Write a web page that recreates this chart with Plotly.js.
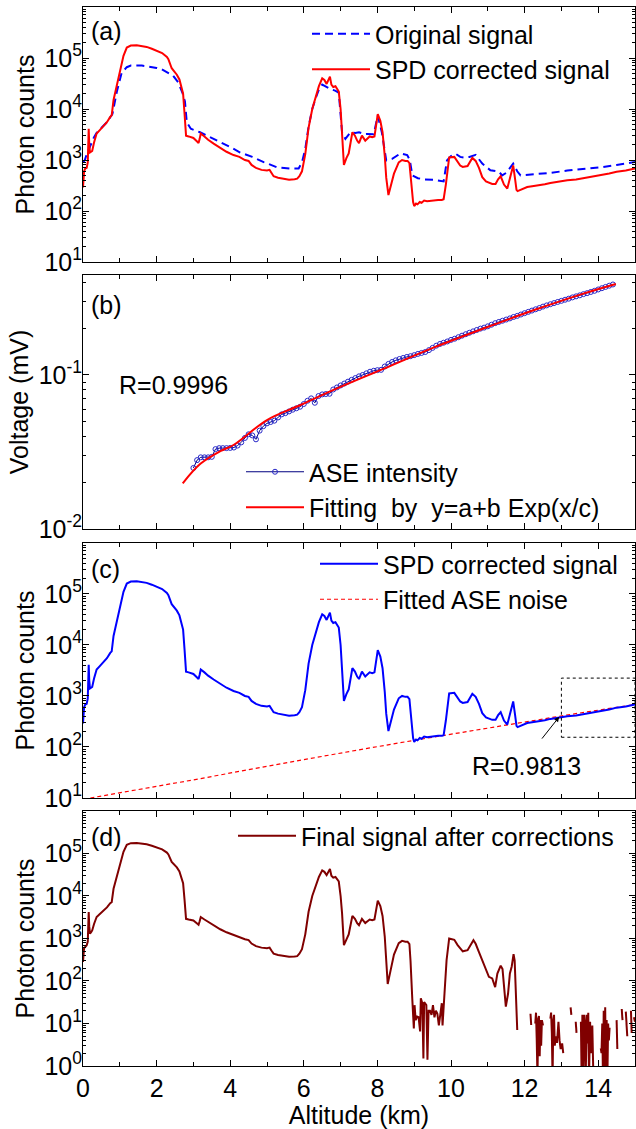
<!DOCTYPE html>
<html>
<head>
<meta charset="utf-8">
<script src="https://cdn.plot.ly/plotly-3.0.1.min.js"></script>
<style>html,body{margin:0;padding:0;background:#fff;}#chart{width:636px;height:1129px;}</style>
</head>
<body>
<div id="chart"></div>
<script>
// ---------------- DATA ----------------
// Panel (a)/(c): SPD corrected signal
const spdAlt = [0.00,0.03,0.06,0.10,0.13,0.155,0.17,0.19,0.22,0.25,0.30,0.37,0.45,0.55,0.65,0.74,0.78,0.83,0.92,1.02,1.10,1.19,1.30,1.46,1.60,1.73,1.87,2.00,2.15,2.28,2.32,2.41,2.48,2.55,2.62,2.68,2.72,2.76,2.80,2.87,3.00,3.10,3.14,3.17,3.20,3.30,3.40,3.55,3.73,3.90,4.09,4.25,4.40,4.50,4.58,4.70,4.85,5.00,5.07,5.12,5.18,5.30,5.45,5.60,5.75,5.82,5.88,5.95,6.04,6.13,6.23,6.32,6.41,6.50,6.56,6.62,6.67,6.71,6.75,6.80,6.86,6.95,7.00,7.04,7.09,7.16,7.22,7.32,7.39,7.45,7.50,7.58,7.67,7.79,7.86,7.92,8.01,8.08,8.14,8.20,8.24,8.30,8.36,8.45,8.58,8.67,8.76,8.82,8.87,8.93,8.97,9.00,9.05,9.09,9.15,9.20,9.27,9.35,9.45,9.54,9.65,9.75,9.80,9.86,9.92,9.95,10.09,10.18,10.25,10.32,10.45,10.58,10.67,10.76,10.85,10.95,11.03,11.12,11.21,11.28,11.35,11.44,11.53,11.62,11.69,11.74,11.78,11.81,11.90,12.07,12.25,12.40,12.55,12.70,12.90,13.16,13.40,13.60,13.85,14.08,14.30,14.50,14.75,15.00];
const spdCounts = [290,600,680,700,900,4100,2000,1400,1450,1500,2200,3300,3800,4500,5500,7000,7500,15000,30000,65000,110000,160000,175000,177000,172000,165000,152000,138000,125000,105000,95000,63000,55000,47000,38000,27000,20000,8000,3000,2900,2700,2300,2150,2600,3300,2900,2500,2100,1700,1450,1250,1150,1000,960,800,700,640,620,640,560,480,450,430,410,420,430,480,600,1300,4300,10000,17000,28000,40000,37000,31000,36000,43000,30000,27000,28000,22000,10000,4000,800,1100,1350,3500,3000,2400,2150,3000,2400,2900,2800,2900,7900,5900,3500,1200,450,205,300,540,900,1000,960,960,870,300,150,125,140,135,150,145,160,155,160,162,165,165,170,330,900,1120,1150,900,780,730,760,1100,960,700,460,380,360,340,340,420,480,330,275,520,780,430,260,245,260,295,310,320,335,355,375,400,415,440,470,520,545,590,620,680];

// Panel (a): original signal
const origAlt = [0.00,0.05,0.10,0.15,0.20,0.30,0.37,0.50,0.65,0.80,0.92,1.05,1.19,1.30,1.46,1.60,1.73,1.87,2.00,2.14,2.27,2.45,2.59,2.70,2.77,2.82,2.93,3.18,3.45,3.73,4.00,4.27,4.60,4.91,5.27,5.64,5.86,5.95,6.04,6.13,6.23,6.32,6.41,6.50,6.62,6.73,6.85,6.95,7.04,7.13,7.27,7.40,7.50,7.65,7.72,7.90,8.01,8.12,8.24,8.40,8.63,8.81,8.88,8.95,9.10,9.27,9.54,9.80,9.89,10.00,10.13,10.25,10.35,10.50,10.67,10.85,11.07,11.30,11.39,11.50,11.69,11.80,11.89,12.25,12.70,13.16,13.60,14.08,14.50,15.00];
const origCounts = [900,1000,1300,1600,2000,2800,3400,4200,5500,8000,22000,51000,66000,71000,72000,71000,69000,67000,64000,60000,54000,45000,33000,21000,14000,5500,4100,3500,2800,2250,1800,1400,1150,910,720,680,680,900,1650,4500,10000,16000,24000,30000,27000,24500,23000,21000,3500,2600,3500,3400,3500,3200,3250,3200,7400,3500,980,1050,1350,1250,1000,500,440,415,410,380,980,1200,1320,1150,1120,1150,1260,850,630,590,500,560,850,600,500,525,560,620,660,720,800,910];

// Panel (b): ASE intensity and fit
const aseAlt = [3.0,3.1,3.2,3.3,3.4,3.5,3.6,3.7,3.8,3.9,4.0,4.1,4.2,4.3,4.4,4.5,4.6,4.7,4.8,4.9,5.0,5.1,5.2,5.3,5.4,5.5,5.6,5.7,5.8,5.9,6.0,6.1,6.2,6.3,6.4,6.5,6.6,6.7,6.8,6.9,7.0,7.1,7.2,7.3,7.4,7.5,7.6,7.7,7.8,7.9,8.0,8.1,8.2,8.3,8.4,8.5,8.6,8.7,8.8,8.9,9.0,9.1,9.2,9.3,9.4,9.5,9.6,9.7,9.8,9.9,10.0,10.1,10.2,10.3,10.4,10.5,10.6,10.7,10.8,10.9,11.0,11.1,11.2,11.3,11.4,11.5,11.6,11.7,11.8,11.9,12.0,12.1,12.2,12.3,12.4,12.5,12.6,12.7,12.8,12.9,13.0,13.1,13.2,13.3,13.4,13.5,13.6,13.7,13.8,13.9,14.0,14.1,14.2,14.3,14.4];
const aseVolt = [0.0249,0.0280,0.0292,0.0292,0.0292,0.0294,0.0330,0.0335,0.0335,0.0335,0.0336,0.0338,0.0348,0.0365,0.0390,0.0412,0.0405,0.0382,0.0435,0.0465,0.0485,0.0495,0.0505,0.0530,0.0555,0.0565,0.0580,0.0595,0.0608,0.0622,0.0648,0.0680,0.0705,0.0660,0.0730,0.0748,0.0752,0.0755,0.0805,0.0830,0.0855,0.0880,0.0905,0.0930,0.0955,0.0980,0.1000,0.1025,0.1050,0.1065,0.1075,0.1080,0.1135,0.1180,0.1215,0.1245,0.1270,0.1290,0.1310,0.1325,0.1345,0.1370,0.1390,0.1410,0.1450,0.1500,0.1550,0.1590,0.1620,0.1650,0.1690,0.1720,0.1760,0.1800,0.1840,0.1880,0.1920,0.1960,0.2000,0.2030,0.2070,0.2120,0.2170,0.2210,0.2250,0.2290,0.2330,0.2380,0.2420,0.2470,0.2520,0.2570,0.2620,0.2670,0.2720,0.2780,0.2830,0.2880,0.2930,0.2980,0.3030,0.3080,0.3130,0.3190,0.3240,0.3290,0.3350,0.3400,0.3460,0.3520,0.3590,0.3660,0.3730,0.3800,0.3870];
const fitAlt = [2.71,3.19,3.73,4.09,5.00,5.91,6.81,8.18,9.54,10.90,12.26,13.62,14.48];
const fitVolt = [0.0198,0.0265,0.0320,0.0351,0.0510,0.0638,0.0800,0.1100,0.1510,0.2010,0.2640,0.3390,0.3900];

// Panel (c): fitted ASE noise
const noiseAlt = [0.2,1.5,3.2,4.5,5.9,7.5,9.0,10.4,11.7,13.3,15.0];
const noiseCounts = [10,14.5,24,36,55,88,135,200,285,440,680];

// Panel (d): final signal after corrections (null = gap)
const finalAlt = [0.00,0.03,0.06,0.10,0.13,0.155,0.17,0.19,0.22,0.25,0.30,0.37,0.45,0.55,0.65,0.74,0.78,0.83,0.92,1.02,1.10,1.19,1.30,1.46,1.60,1.73,1.87,2.00,2.15,2.28,2.32,2.41,2.48,2.55,2.62,2.68,2.72,2.76,2.80,2.87,3.00,3.10,3.14,3.17,3.20,3.30,3.40,3.55,3.73,3.90,4.09,4.25,4.40,4.50,4.58,4.70,4.85,5.00,5.07,5.12,5.18,5.30,5.45,5.60,5.75,5.82,5.88,5.95,6.04,6.13,6.23,6.32,6.41,6.50,6.56,6.62,6.67,6.71,6.75,6.80,6.86,6.95,7.00,7.04,7.09,7.16,7.22,7.32,7.39,7.45,7.50,7.58,7.67,7.79,7.86,7.92,8.01,8.08,8.14,8.20,8.24,8.28,8.36,8.45,8.58,8.67,8.76,8.82,8.87,8.90,8.95,8.99,9.01,9.04,9.08,9.12,9.16,9.18,9.22,9.25,9.27,9.30,9.33,9.36,9.39,9.43,9.47,9.51,9.55,9.59,9.63,9.67,9.71,9.75,9.77,9.80,9.83,9.88,9.95,10.09,10.18,10.32,10.45,10.61,10.67,10.76,10.85,10.95,11.03,11.12,11.20,11.26,11.35,11.40,11.44,11.49,11.55,11.60,11.65,11.70,11.73,11.76,11.78,11.80,
  11.81,12.16,12.18,12.19,
  12.29,12.31,12.33,12.35,12.37,12.39,12.41,12.43,12.45,12.47,12.50,12.51,
  12.70,12.72,12.74,12.76,12.78,12.80,12.82,12.85,12.88,12.92,12.95,12.98,13.02,13.05,13.06,
  13.25,13.27,13.28,13.39,13.41,13.42,
  13.53,13.55,13.57,13.59,13.62,13.64,13.66,13.69,13.71,13.73,13.75,13.78,13.80,13.84,13.87,13.88,
  14.07,14.09,14.11,14.13,14.15,14.17,14.19,14.21,14.23,14.25,14.27,14.29,14.31,14.32,
  14.50,14.52,14.53,14.64,14.66,14.67,14.75,14.77,14.79,14.80,14.89,14.91,14.92,14.97,15.00];
const finalCounts = [280,600,630,690,850,4200,1900,1300,1400,1550,2200,3200,3700,4400,5400,6800,7200,14800,30000,65000,110000,160000,175000,177000,172000,165000,152000,138000,125000,105000,95000,63000,55000,47000,38000,27000,20000,8000,2900,2800,2650,2250,2100,2550,3200,2800,2450,2050,1650,1400,1200,1100,960,920,760,660,610,590,610,520,440,410,390,370,375,385,440,560,1250,4250,10000,17000,28000,40000,37000,31000,36000,43000,30000,27000,28000,22000,10000,3900,700,1000,1250,3400,2900,2300,2050,2900,2300,2800,2700,2800,7800,5800,3400,1100,340,85,180,420,780,880,840,840,740,300,35,7.6,27,12,14.5,14,6.5,39,30,1.5,32,29,27,1.4,20,20,16,27,14,20,17,9,19,30,9,19,63,310,1000,930,700,500,530,910,750,480,310,200,125,115,72,150,230,190,85,25,50,150,220,430,300,60,10,7,
  null,17,9.2,null,
  10,18,4,0.5,13,15,1.7,12,3,12,9,null,
  13,18,6,0.5,12,16,3,5,3.5,11,4,2.5,3.4,2,null,
  24,16,null,11,6,null,
  11,0.5,16,0.5,16,10,0.5,16,3.4,18,0.5,11,2,9,0.5,null,
  2.6,2,10,0.5,20,0.5,24,0.5,12,0.5,10,4,8,null,
  12,2.5,null,22,12,null,19,12,5,null,20,6,null,14,11];

// Tick labels
const altTicks = [0,2,4,6,8,10,12,14];
const countTickVals = [1,10,100,1000,10000,100000];
const countTickText = ['10<sup>0</sup>','10<sup>1</sup>','10<sup>2</sup>','10<sup>3</sup>','10<sup>4</sup>','10<sup>5</sup>'];
const voltTickVals = [0.01,0.1];
const voltTickText = ['10<sup>-2</sup>','10<sup>-1</sup>'];

// ---------------- PLOT ----------------
const FONT = 'Liberation Sans, Arial, sans-serif';
const tickFont = {family: FONT, size: 25, color: '#000'};
const titleFont = {family: FONT, size: 25, color: '#000'};

function xAxis(anchor, showLabels) {
  const ax = {
    anchor: anchor, range: [0, 15], showline: true, linecolor: '#000', linewidth: 1,
    mirror: 'allticks', ticks: 'inside', ticklen: 6, tickcolor: '#000', showgrid: false, zeroline: false,
    tickmode: 'array', tickvals: altTicks, ticktext: altTicks.map(String),
    showticklabels: showLabels, tickfont: tickFont,
    minor: {ticks: 'inside', ticklen: 4, tickcolor: '#000', dtick: 1, showgrid: false}
  };
  if (anchor !== 'y4') ax.matches = 'x4';
  return ax;
}
function yAxis(domain, range, vals, text, title, standoff) {
  return {
    domain: domain, type: 'log', range: range, showline: true, linecolor: '#000', linewidth: 1,
    mirror: 'allticks', ticks: 'inside', ticklen: 6, tickcolor: '#000', showgrid: false, zeroline: false,
    tickmode: 'array', tickvals: vals, ticktext: text, tickfont: tickFont, ticklabelstandoff: -5,
    minor: {ticks: 'inside', ticklen: 3, tickcolor: '#000', dtick: 'D1', showgrid: false},
    title: {text: title, font: titleFont, standoff: standoff}
  };
}

const traces = [
  {x: origAlt, y: origCounts, xaxis: 'x', yaxis: 'y', mode: 'lines', name: 'Original signal',
   line: {color: '#0000FF', width: 2, dash: '8px,5px'}, legend: 'legend'},
  {x: spdAlt, y: spdCounts, xaxis: 'x', yaxis: 'y', mode: 'lines', name: 'SPD corrected signal',
   line: {color: '#FF0000', width: 2}, legend: 'legend'},
  {x: aseAlt, y: aseVolt, xaxis: 'x2', yaxis: 'y2', mode: 'lines+markers', name: 'ASE intensity',
   line: {color: '#000080', width: 1}, marker: {symbol: 'circle-open', size: 5, color: '#2828C8', line: {width: 1}}, legend: 'legend2'},
  {x: fitAlt, y: fitVolt, xaxis: 'x2', yaxis: 'y2', mode: 'lines', name: 'Fitting  by  y=a+b Exp(x/c)',
   line: {color: '#FF0000', width: 2, shape: 'spline'}, legend: 'legend2'},
  {x: noiseAlt, y: noiseCounts, xaxis: 'x3', yaxis: 'y3', mode: 'lines', name: 'Fitted ASE noise',
   line: {color: '#FF0000', width: 1.2, dash: '4px,3px'}, legend: 'legend3', legendrank: 2},
  {x: spdAlt, y: spdCounts, xaxis: 'x3', yaxis: 'y3', mode: 'lines', name: 'SPD corrected signal',
   line: {color: '#0000FF', width: 2}, legend: 'legend3', legendrank: 1},
  {x: finalAlt, y: finalCounts, xaxis: 'x4', yaxis: 'y4', mode: 'lines', name: 'Final signal after corrections',
   line: {color: '#800000', width: 2}, connectgaps: false, legend: 'legend4'}
];

const legendBase = {bgcolor: 'rgba(0,0,0,0)', borderwidth: 0, font: {family: FONT, size: 25, color: '#000'},
  xanchor: 'left', yanchor: 'top', itemwidth: 58, tracegroupgap: 0, traceorder: 'normal'};

function P(px) { return (px - 83) / 552; }
function Q(py) { return (1066 - py) / 1059; }

const layout = {
  width: 636, height: 1129, paper_bgcolor: '#fff', plot_bgcolor: '#fff',
  margin: {l: 83, r: 1, t: 7, b: 63},
  font: {family: FONT, color: '#000'},
  showlegend: true,
  xaxis: xAxis('y', false),
  xaxis2: xAxis('y2', false),
  xaxis3: xAxis('y3', false),
  xaxis4: Object.assign(xAxis('y4', true), {title: {text: 'Altitude (km)', font: titleFont, standoff: 4}}),
  yaxis: yAxis([0.7592, 1.0], [1, 6], countTickVals.slice(1), countTickText.slice(1), 'Photon counts', 2),
  yaxis2: yAxis([0.5071, 0.7469], [-2, -0.351], voltTickVals, voltTickText, 'Voltage (mV)', 2),
  yaxis3: yAxis([0.2531, 0.4939], [1, 6], countTickVals.slice(1), countTickText.slice(1), 'Photon counts', 2),
  yaxis4: yAxis([0, 0.2408], [0, 6], countTickVals, countTickText, 'Photon counts', 2),
  legend: Object.assign({}, legendBase, {x: P(307), y: Q(11)}),
  legend2: Object.assign({}, legendBase, {x: P(241), y: Q(449)}),
  legend3: Object.assign({}, legendBase, {x: P(315), y: Q(541)}),
  legend4: Object.assign({}, legendBase, {x: P(233), y: Q(813)}),
  shapes: [
    {type: 'rect', xref: 'x3', yref: 'y3', x0: 13.0, x1: 15.0, y0: 155, y1: 2240,
     line: {color: '#000', width: 1, dash: 'dot'}}
  ],
  annotations: [
    {xref: 'paper', yref: 'paper', x: P(89), y: Q(31), xanchor: 'left', yanchor: 'middle', text: '(a)', showarrow: false, font: titleFont},
    {xref: 'paper', yref: 'paper', x: P(89), y: Q(305), xanchor: 'left', yanchor: 'middle', text: '(b)', showarrow: false, font: titleFont},
    {xref: 'paper', yref: 'paper', x: P(89), y: Q(569), xanchor: 'left', yanchor: 'middle', text: '(c)', showarrow: false, font: titleFont},
    {xref: 'paper', yref: 'paper', x: P(89), y: Q(837), xanchor: 'left', yanchor: 'middle', text: '(d)', showarrow: false, font: titleFont},
    {xref: 'paper', yref: 'paper', x: P(117), y: Q(385), xanchor: 'left', yanchor: 'middle', text: 'R=0.9996', showarrow: false, font: titleFont},
    {xref: 'paper', yref: 'paper', x: P(470), y: Q(766), xanchor: 'left', yanchor: 'middle', text: 'R=0.9813', showarrow: false, font: titleFont},
    {xref: 'x3', yref: 'y3', x: 12.94, y: 2.59, axref: 'x3', ayref: 'y3', ax: 12.44, ay: 2.135,
     text: '', showarrow: true, arrowhead: 2, arrowsize: 1, arrowwidth: 1, arrowcolor: '#000'}
  ]
};

Plotly.newPlot('chart', traces, layout, {displayModeBar: false, staticPlot: true});
</script>
</body>
</html>
